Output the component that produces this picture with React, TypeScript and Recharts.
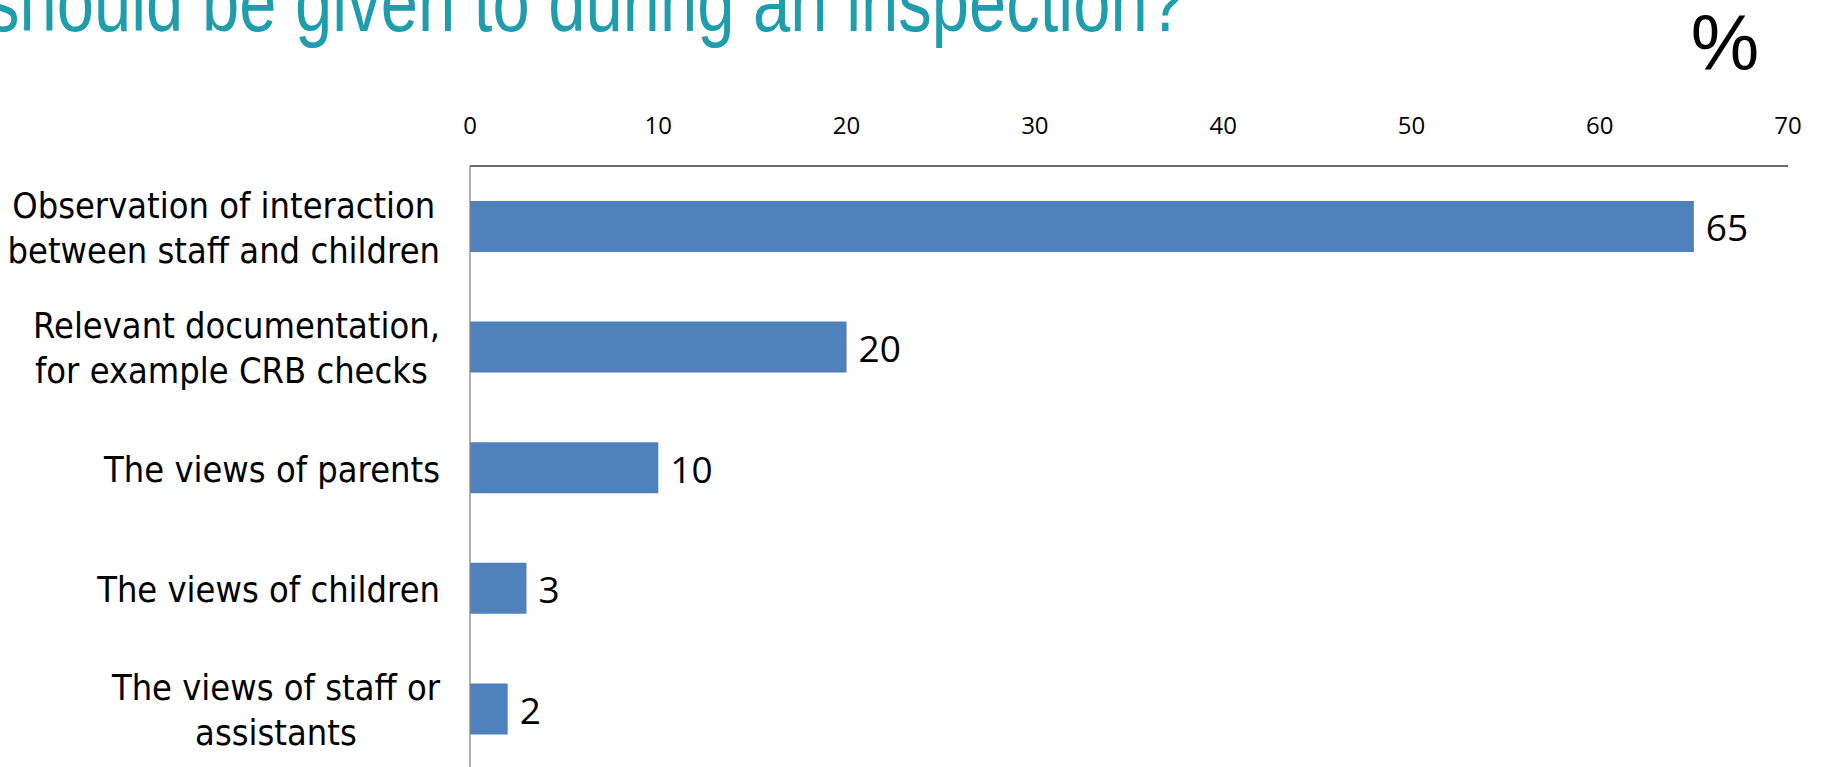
import React from "react";
import { BarChart, Bar, XAxis, YAxis, LabelList } from "recharts";

const categories: string[] = [
  "Observation of interaction\nbetween staff and children",
  "Relevant documentation,\nfor example CRB checks\u00A0",
  "The views of parents",
  "The views of children",
  "The views of staff or\nassistants",
];
const values: number[] = [65, 20, 10, 3, 2];
const xTicks: number[] = [0, 10, 20, 30, 40, 50, 60, 70];
const titleText = "should be given to during an inspection?";
const unitText = "%";

const data = categories.map((c, i) => ({ label: c, value: values[i] }));

const LABEL_FONT_SIZE = 35.5;
const LABEL_SCALE = 0.91;
const LABEL_FONT = `${LABEL_FONT_SIZE}px "DejaVu Sans"`;
let ctx: CanvasRenderingContext2D | null = null;
function measure(t: string): number {
  if (!ctx) {
    const c = document.createElement("canvas");
    ctx = c.getContext("2d");
  }
  if (!ctx) return t.length * LABEL_FONT_SIZE * 0.6 * LABEL_SCALE;
  ctx.font = LABEL_FONT;
  return ctx.measureText(t).width * LABEL_SCALE;
}

const CategoryTick = (props: any) => {
  const { x, y, payload } = props;
  const lines: string[] = String(payload.value).split("\n");
  const widths = lines.map(measure);
  const block = Math.max(...widths);
  const cx = x - block / 2;
  const n = lines.length;
  return (
    <g>
      {lines.map((ln, i) => {
        const by = y + 14 + (i - (n - 1) / 2) * 45;
        return (
          <text
            key={i}
            x={0}
            y={0}
            transform={`translate(${cx},${by}) scale(${LABEL_SCALE},1)`}
            textAnchor="middle"
            fontFamily='"DejaVu Sans"'
            fontSize={LABEL_FONT_SIZE}
            fill="#000"
          >
            {ln}
          </text>
        );
      })}
    </g>
  );
};

const ValueTick = (props: any) => {
  const { x, y, payload } = props;
  return (
    <text
      x={x}
      y={y}
      dy={-32}
      textAnchor="middle"
      fontFamily='"Open Sans"'
      fontSize={24}
      fill="#000"
    >
      {payload.value}
    </text>
  );
};

const ValueLabel = (props: any) => {
  const { x, y, width, height, value } = props;
  return (
    <text
      x={Number(x) + Number(width) + 12}
      y={Number(y) + Number(height) / 2}
      dy="0.4em"
      textAnchor="start"
      fontFamily='"Open Sans"'
      fontSize={37}
      fill="#000"
    >
      {value}
    </text>
  );
};

export default function App() {
  return (
    <div
      style={{
        position: "fixed",
        left: 0,
        top: 0,
        width: 1823,
        height: 767,
        overflow: "hidden",
        background: "#fff",
      }}
    >
      <BarChart
        width={1823}
        height={770}
        data={data}
        layout="vertical"
        margin={{ top: 126, right: 35, bottom: 1, left: 30 }}
      >
        <XAxis
          type="number"
          orientation="top"
          domain={[0, 70]}
          ticks={xTicks}
          height={40}
          tickSize={0}
          tickMargin={0}
          tickLine={false}
          axisLine={{ stroke: "#3a3a3a", strokeWidth: 1.3 }}
          tick={<ValueTick />}
          interval={0}
        />
        <YAxis
          type="category"
          dataKey="label"
          width={440}
          tickSize={0}
          tickMargin={30}
          tickLine={false}
          axisLine={{ stroke: "#868686", strokeWidth: 1.3 }}
          tick={<CategoryTick />}
          interval={0}
        />
        <Bar dataKey="value" fill="#4F81BD" barSize={51} isAnimationActive={false}>
          <LabelList dataKey="value" content={<ValueLabel />} />
        </Bar>
      </BarChart>
      <svg
        width={1823}
        height={767}
        style={{ position: "absolute", left: 0, top: 0, pointerEvents: "none" }}
      >
        <text
          x={-14}
          y={31}
          textLength={1199}
          lengthAdjust="spacingAndGlyphs"
          fontFamily='"Liberation Sans"'
          fontSize={84}
          fill="#1E9DAD"
        >
          {titleText}
        </text>
        <text
          x={1725}
          y={70}
          textAnchor="middle"
          fontFamily='"Liberation Sans"'
          fontSize={77}
          fill="#000"
        >
          {unitText}
        </text>
      </svg>
    </div>
  );
}
